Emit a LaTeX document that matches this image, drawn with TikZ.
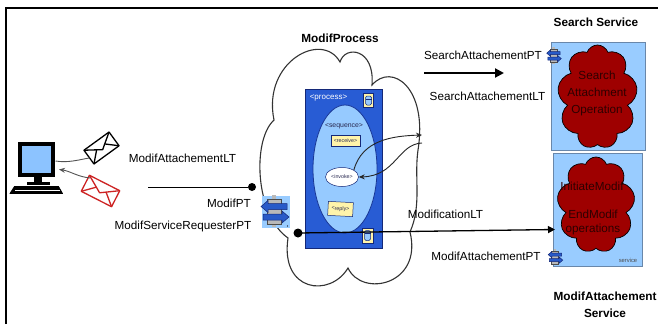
\documentclass[tikz,border=0pt]{standalone}
\usepackage{fontspec}
\setmainfont{Liberation Sans}
\usetikzlibrary{arrows.meta,shapes.symbols,shapes.geometric,calc}

\definecolor{svcblue}{RGB}{153,204,255}
\definecolor{svcedge}{RGB}{105,135,170}
\definecolor{procblue}{RGB}{40,92,212}
\definecolor{procedge}{RGB}{20,40,120}
\definecolor{seqblue}{RGB}{150,202,255}
\definecolor{seqedge}{RGB}{25,55,150}
\definecolor{tagyellow}{RGB}{255,244,170}
\definecolor{opred}{RGB}{158,0,0}
\definecolor{optext}{RGB}{45,0,0}
\definecolor{screen}{RGB}{140,195,255}
\definecolor{portgray}{RGB}{185,185,185}
\definecolor{portarrow}{RGB}{40,90,200}
\definecolor{mailred}{RGB}{205,35,35}
\definecolor{tagtext}{RGB}{40,40,80}

\tikzset{
  pics/port/.style={code={
    \fill[portgray] (-3,-16) rectangle (1,-12);
    \fill[portgray] (-3,13) rectangle (1,16);
    \draw[gray!60!black, line width=0.5, fill=portgray] (-8,-12) rectangle (6,13);
    \draw[procedge, line width=0.5, fill=portarrow]
      (12,-7.5) -- (-7,-7.5) -- (-7,-10.5) -- (-14,-4.5) -- (-7,1.5) -- (-7,-1.5) -- (12,-1.5) -- cycle;
    \draw[procedge, line width=0.5, fill=portarrow]
      (-12,3) -- (7,3) -- (7,0) -- (14,6) -- (7,12) -- (7,9) -- (-12,9) -- cycle;
    \coordinate (-c) at (0,0);
  }},
  svcbox/.style={draw=svcedge, fill=svcblue, line width=0.8},
  opcloud/.style={cloud, cloud puffs=9, cloud puff arc=140, cloud ignores aspect,
    draw=black, line width=0.7, fill=opred, inner sep=0pt},
  optxt/.style={text=optext, align=center, font=\fontsize{11.7}{17}\selectfont},
  tagbox/.style={draw=procedge, line width=0.5, fill=tagyellow, inner sep=1.2pt,
    text=tagtext, font=\fontsize{5.3}{6}\selectfont},
  dbicon/.style={draw=procedge, line width=0.5, fill=tagyellow, minimum width=10pt, minimum height=14pt},
  flow/.style={draw=black!85, line width=0.9, -{Stealth[length=6pt,width=5pt]}},
  link/.style={draw=gray!65!black, line width=0.9},
  blob/.style={circle, fill=black, minimum size=8pt, inner sep=0pt},
  ttl/.style={font=\fontsize{11.8}{17}\selectfont\bfseries, align=center},
  mail/.style={line width=1.3pt, line join=round},
}

\begin{document}
\begin{tikzpicture}[x=1pt,y=-1pt, every node/.append style={inner sep=0pt},
  font=\fontsize{11.7}{14}\selectfont]

\useasboundingbox (0,0) rectangle (658,324);
\fill[white] (0,0) rectangle (658,324);

% frame along the top and the left side
\draw[line width=2.3pt, line join=miter] (6.2,324) -- (6.2,7.8) -- (658,7.8);

% ---------- client computer ----------
\node[draw=black, fill=screen, line width=4pt, minimum width=33pt, minimum height=31pt] (mon) at (36.5,159.5) {};
\fill (33.5,177) rectangle (42,182);
\fill (27,181.5) rectangle (50,185);
\filldraw[line join=round, line width=0.8] (14.5,186.5) -- (58.5,186.5) -- (62.5,193.5) -- (10,193.5) -- cycle;
\draw[white, line width=0.7] (15,190.2) -- (59.5,190.2);
\coordinate (mon-out) at (55.5,161);
\coordinate (mon-in) at (59,169.5);

% messages exchanged with the client
\begin{scope}[shift={(101.5,148)}, rotate=36]
  \draw[mail, fill=white] (-15.5,-8.5) rectangle (15.5,8.5);
  \draw[mail] (-15.5,-8.5) -- (0,2) -- (15.5,-8.5);
  \draw[mail] (-15.5,8.5) -- (-5,-1.4);
  \draw[mail] (15.5,8.5) -- (5,-1.4);
  \coordinate (mail-out) at (-15.5,1);
\end{scope}
\begin{scope}[shift={(100.5,191)}, rotate=-27]
  \draw[mail, mailred, fill=white] (-17,-9) rectangle (17,9);
  \draw[mail, mailred] (-17,-9) -- (0,2) -- (17,-9);
  \draw[mail, mailred] (-17,9) -- (-5.5,-1.5);
  \draw[mail, mailred] (17,9) -- (5.5,-1.5);
  \coordinate (mail-back) at (-15,-7);
\end{scope}
\draw[link] (mon-out) .. controls (68,163) and (78,160) .. (mail-out);
\draw[link, -{Stealth[length=6pt,width=5pt]}] (mail-back) .. controls (78,177) and (70,171) .. (mon-in);

\node (lt1) at (182.5,158) {ModifAttachementLT};
\coordinate (pt1-start) at (148,187);
\node[blob] (modifpt) at (252,187) {};
\draw[line width=1] (pt1-start) -- (modifpt);
\node (lbl-modifpt) at (229,203) {ModifPT};
\node (lbl-req) at (183,226) {ModifServiceRequesterPT};

% ---------- ModifProcess cloud ----------
\node[ttl] (proc-title) at (340,38) {ModifProcess};
\draw[black!80, line width=1.1]
  (274,120) .. controls (262,62) and (322,30) .. (340,62)
  .. controls (345,45) and (375,48) .. (372,85)
  .. controls (392,62) and (428,88) .. (418,150)
  .. controls (414,178) and (422,205) .. (410,232)
  .. controls (423,285) and (362,298) .. (348,268)
  .. controls (330,298) and (280,292) .. (288,238)
  .. controls (255,215) and (252,140) .. (274,120) -- cycle;

% process box
\node[draw=procedge, fill=procblue, line width=0.8, minimum width=77pt, minimum height=159pt] (process) at (343.5,168.5) {};
\node[draw=seqedge, fill=seqblue, ellipse, line width=0.8, minimum width=64pt, minimum height=128pt] (sequence) at (345,169) {};
\node[text=white, font=\fontsize{8}{9}\selectfont] (tag-process) at (328.5,98) {<process>};
\node[dbicon] (db-top) at (368.5,100.5) {};
\draw[procedge, line width=0.5, fill=seqblue, rounded corners=1.5]
  ($(db-top.center)+(-3,-4.5)$) rectangle ($(db-top.center)+(3,4.5)$);
\draw[procedge, line width=0.4] ($(db-top.center)+(-3,-1.5)$) -- ($(db-top.center)+(3,-1.5)$);
\node[text=tagtext, font=\fontsize{6.9}{8}\selectfont] (tag-seq) at (344,126) {<sequence>};
\node[tagbox, minimum width=29pt, minimum height=11pt] (receive) at (345.5,141) {<receive>};
\node[draw=procedge, line width=0.5, fill=white, ellipse, minimum width=33pt, minimum height=19pt,
  text=tagtext, font=\fontsize{5.3}{6}\selectfont] (invoke) at (342,177) {<invoke>};
\node[tagbox, minimum width=25pt, minimum height=14pt, rotate=-3] (reply) at (340.5,209) {<reply>};
\node[dbicon, minimum width=11pt, minimum height=15pt] (db-bot) at (367.5,235.5) {};
\draw[procedge, line width=0.5, fill=seqblue, rounded corners=1.5]
  ($(db-bot.center)+(-3,-5)$) rectangle ($(db-bot.center)+(3,5)$);
\draw[procedge, line width=0.4] ($(db-bot.center)+(-3,-2)$) -- ($(db-bot.center)+(3,-2)$);

% requester port
\node[fill=svcblue, minimum width=28pt, minimum height=32pt] (reqport) at (276,212) {};
\pic (reqicon) at (275,211) {port};
\fill (287.5,226) circle (0.7);

% invoke calls out of the process and comes back
\coordinate (call-out) at (422,135);
\coordinate (call-back) at (422,143);
\draw[flow] (invoke.north east) .. controls (362,140) and (392,136) .. (call-out);
\draw[flow] (call-back) .. controls (398,144) and (396,176) .. (invoke.east);

% ---------- Search Service ----------
\node[ttl] (search-title) at (596,22) {Search Service};
\node[svcbox, minimum width=94pt, minimum height=108pt] (searchbox) at (598,96) {};
\node[opcloud, minimum width=80pt, minimum height=104pt] (searchop) at (597.5,97) {};
\node[optxt] (searchop-txt) at (597,93) {Search\\Attachment\\Operation};
\pic[scale=0.52] (searchport) at (554,55.5) {port};

\node (lbl-searchpt) at (483,55) {SearchAttachementPT};
\coordinate (s-from) at (424,73);
\coordinate (s-to) at (504,73);
\draw[line width=2, -{Triangle[length=9pt,width=9pt]}] (s-from) -- (s-to);
\node (lbl-searchlt) at (487.5,96) {SearchAttachementLT};

% ---------- ModifAttachement Service ----------
\node[svcbox, minimum width=89pt, minimum height=113pt] (modbox) at (597.5,209.5) {};
\node[opcloud, minimum width=78pt, minimum height=96pt] (modop) at (596,205) {};
\node[optxt] (modop-a) at (592,186) {InitiateModif};
\node[optxt, font=\fontsize{11.7}{13.5}\selectfont] (modop-b) at (593,222.5) {EndModif\\operations};
\node[text=black!70, font=\fontsize{5.8}{7}\selectfont] (svc-tag) at (628,260) {service};
\pic[scale=0.52] (modport) at (555.5,257) {port};
\node (lbl-modpt) at (486,256.5) {ModifAttachementPT};
\node[ttl] (mod-title) at (605,304.5) {ModifAttachement\\Service};

% reply path from the process to the ModifAttachement service
\node[blob, minimum width=8pt, minimum height=9pt] (procdot) at (298,233) {};
\coordinate (mod-in) at (555,229.5);
\draw[line width=1.3, -{Triangle[length=7pt,width=7pt]}] (procdot.center) -- (mod-in);
\node (lbl-modlt) at (445.5,214) {ModificationLT};

\end{tikzpicture}
\end{document}
